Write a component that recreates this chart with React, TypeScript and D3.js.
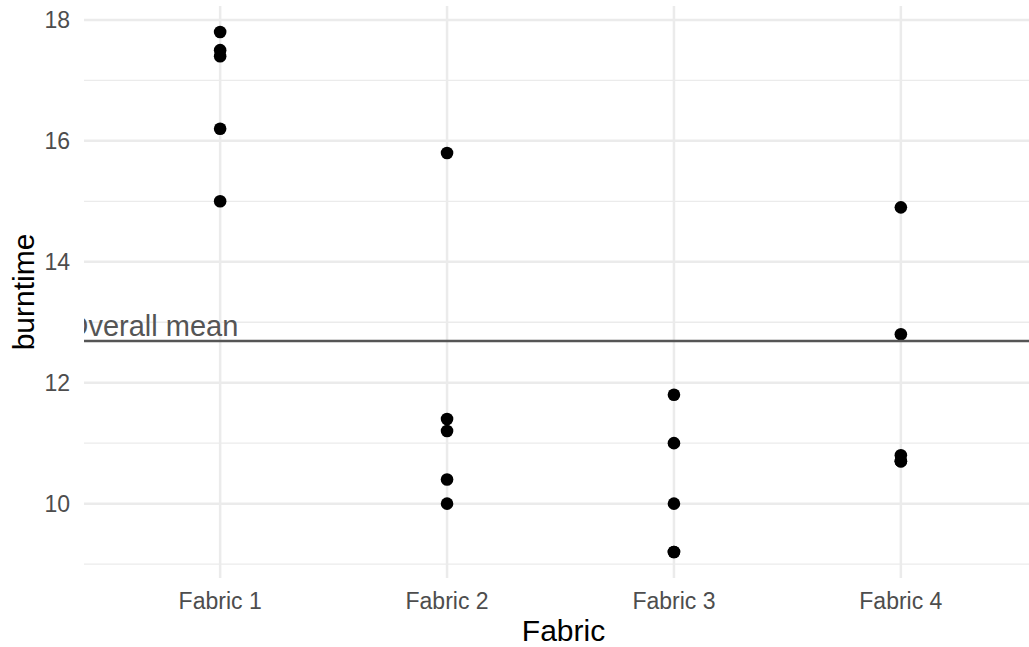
import React from "react";
import * as d3 from "d3";

const fabrics = ["Fabric 1", "Fabric 2", "Fabric 3", "Fabric 4"];
const fabric1 = [17.8, 17.5, 17.4, 16.2, 15.0];
const fabric2 = [15.8, 11.4, 11.2, 10.4, 10.0];
const fabric3 = [11.8, 11.0, 10.0, 9.2, 9.2];
const fabric4 = [14.9, 12.8, 10.8, 10.7, 10.7];
const majorTicks = [10, 12, 14, 16, 18];
const minorTicks = [9, 11, 13, 15, 17];
const meanLabel = "Overall mean";
const labelXPos = 0.7; // in category units (1 = Fabric 1)
const labelYOffset = 0.25;

const W = 1029;
const H = 647;
const panel = { left: 84, top: 6, right: 1037, bottom: 578 };
const FONT = "'Liberation Sans', Arial, Helvetica, sans-serif";

export default function App() {
  const series = [fabric1, fabric2, fabric3, fabric4];
  const points = series.flatMap((vals, i) => vals.map((v) => ({ f: fabrics[i], v })));
  const all = points.map((p) => p.v);
  const mean = d3.mean(all) as number;
  const [mn, mx] = d3.extent(all) as [number, number];
  const pad = (mx - mn) * 0.05;

  const x = d3.scalePoint<string>().domain(fabrics).range([panel.left, panel.right]).padding(0.6);
  const y = d3.scaleLinear().domain([mn - pad, mx + pad]).range([panel.bottom, panel.top]);
  const step = x.step();
  const labelX = (x(fabrics[0]) as number) + (labelXPos - 1) * step;

  return (
    <svg width={W} height={H} style={{ position: "absolute", left: 0, top: 0, background: "#fff" }} fontFamily={FONT}>
      <defs>
        <clipPath id="panelClip">
          <rect x={panel.left} y={panel.top} width={panel.right - panel.left} height={panel.bottom - panel.top} />
        </clipPath>
      </defs>
      <rect x={0} y={0} width={W} height={H} fill="#fff" />
      <g clipPath="url(#panelClip)">
        {minorTicks.map((t) => (
          <line key={"mi" + t} x1={panel.left} x2={panel.right} y1={y(t)} y2={y(t)} stroke="#EBEBEB" strokeWidth={1.3} />
        ))}
        {majorTicks.map((t) => (
          <line key={"ma" + t} x1={panel.left} x2={panel.right} y1={y(t)} y2={y(t)} stroke="#EBEBEB" strokeWidth={2.5} />
        ))}
        {fabrics.map((f) => (
          <line key={"vx" + f} x1={x(f)} x2={x(f)} y1={panel.top} y2={panel.bottom} stroke="#EBEBEB" strokeWidth={2.5} />
        ))}
        {points.map((p, i) => (
          <circle key={i} cx={x(p.f)} cy={y(p.v)} r={6.3} fill="#000" />
        ))}
        <line x1={panel.left} x2={panel.right} y1={y(mean)} y2={y(mean)} stroke="#555555" strokeWidth={2.6} />
        <text x={labelX} y={y(mean + labelYOffset)} dy="0.35em" textAnchor="middle" fontSize={29} fill="#555555">
          {meanLabel}
        </text>
      </g>
      {majorTicks.map((t) => (
        <text key={"yl" + t} x={70} y={y(t)} dy="0.36em" textAnchor="end" fontSize={23} fill="#4D4D4D">
          {t}
        </text>
      ))}
      {fabrics.map((f) => (
        <text key={"xl" + f} x={x(f)} y={609} textAnchor="middle" fontSize={23} fill="#4D4D4D">
          {f}
        </text>
      ))}
      <text x={(panel.left + panel.right) / 2 + 3} y={641} textAnchor="middle" fontSize={30} fill="#000">
        Fabric
      </text>
      <text
        transform={`translate(34, ${(panel.top + panel.bottom) / 2}) rotate(-90)`}
        textAnchor="middle"
        fontSize={30}
        fill="#000"
      >
        burntime
      </text>
    </svg>
  );
}
